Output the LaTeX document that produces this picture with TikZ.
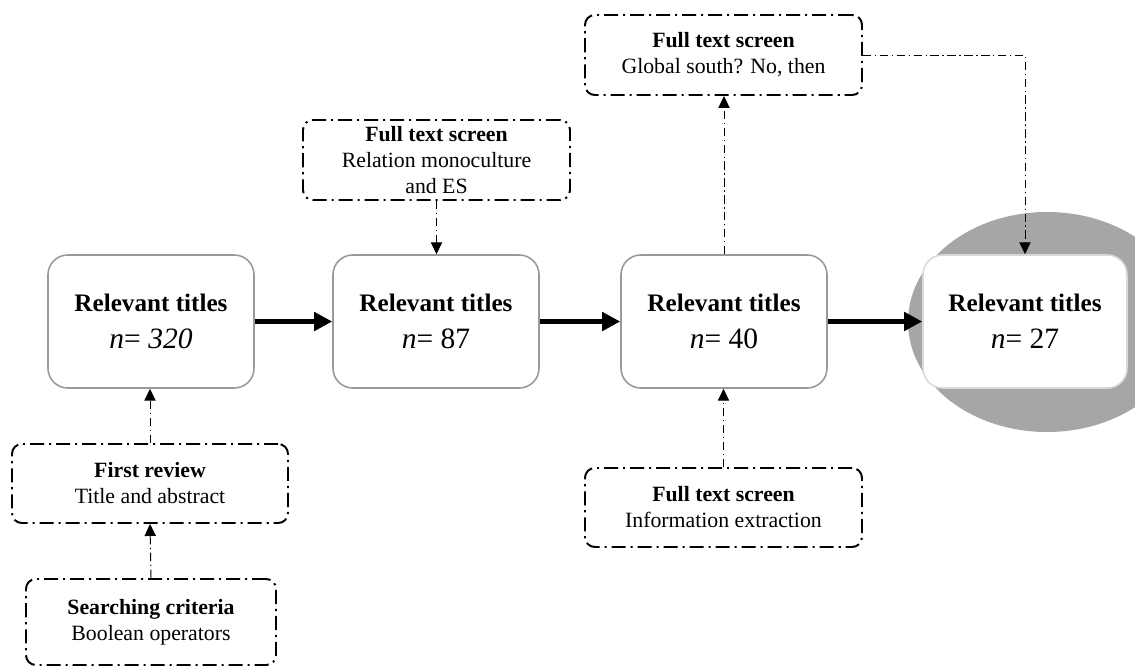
\documentclass[tikz,border=0pt]{standalone}
\usepackage{fontspec}
\setmainfont{Liberation Serif}
\usepackage{tikz}
\usetikzlibrary{arrows.meta,positioning}

\begin{document}
\begin{tikzpicture}[scale=1.0,
    titlebox/.style={draw=black!40, line width=1.1pt, fill=white, rounded corners=14pt,
        minimum width=5.15cm, minimum height=3.325cm, inner sep=0pt, align=center,
        font=\fontsize{17.9}{26.3}\selectfont},
    screenbox/.style={draw=black, line width=1.4pt, dash pattern=on 10pt off 3.5pt on 1.5pt off 3.5pt,
        rounded corners=7pt, inner sep=0pt, align=center,
        font=\fontsize{15.5}{18.5}\selectfont},
    flow/.style={line width=3.5pt, -{Triangle[length=12.8pt,width=12.8pt]}},
    link/.style={line width=0.7pt, dash pattern=on 6pt off 2.5pt on 1pt off 2.5pt,
        -{Triangle[length=8.5pt,width=8pt]}},
]
    \clip (0,0) rectangle (28.375,16.675);

    % Grey backdrop behind the final count
    \fill[black!35] (26.175,8.625) ellipse (3.475 and 2.75);

    % Main row: relevant titles
    \node[titlebox] (b1) at (3.775,8.6375) {\textbf{Relevant titles}\\{\fontsize{21}{26.3}\selectfont\textit{n}= \textit{320}}};
    \node[titlebox] (b2) at (10.9,8.6375) {\textbf{Relevant titles}\\{\fontsize{21}{26.3}\selectfont\textit{n}= 87}};
    \node[titlebox] (b3) at (18.1,8.6375) {\textbf{Relevant titles}\\{\fontsize{21}{26.3}\selectfont\textit{n}= 40}};
    \node[titlebox, draw=black!15, minimum width=5.1cm] (b4) at (25.625,8.6375) {\textbf{Relevant titles}\\{\fontsize{21}{26.3}\selectfont\textit{n}= 27}};

    % Screening steps
    \node[screenbox, minimum width=6.25cm, minimum height=2.15cm] (search) at (3.775,1.125) {\textbf{Searching criteria}\\Boolean operators};
    \node[screenbox, minimum width=6.9cm, minimum height=1.975cm] (review) at (3.75,4.5875) {\textbf{First review}\\Title and abstract};
    \node[screenbox, minimum width=6.675cm, minimum height=2cm] (relation) at (10.9125,12.675) {\textbf{Full text screen}\\Relation monoculture\\and ES};
    \node[screenbox, minimum width=6.925cm, minimum height=2cm] (south) at (18.0875,15.3) {\textbf{Full text screen}\\Global south? No, then};
    \node[screenbox, minimum width=6.925cm, minimum height=1.975cm] (extract) at (18.0875,3.9875) {\textbf{Full text screen}\\Information extraction};

    % Thick flow arrows
    \draw[flow] (b1) -- (b2);
    \draw[flow] (b2) -- (b3);
    \draw[flow] (b3) -- (b4);

    % Dash-dot links
    \draw[link] (search.north) -- (review.south);
    \draw[link] (review.north) -- (review.north |- b1.south);
    \draw[link] (relation.south) -- (relation.south |- b2.north);
    \draw[link] (b3.north) -- (b3.north |- south.south);
    \draw[link] (extract.north) -- (extract.north |- b3.south);
    \draw[link] (south.east) -| (b4.north);
\end{tikzpicture}
\end{document}
